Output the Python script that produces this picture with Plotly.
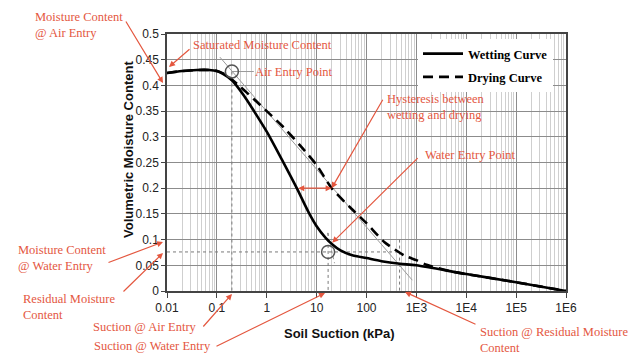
import numpy as np
import plotly.graph_objects as go

# Soil-water characteristic curves: suction (kPa) vs volumetric moisture content
wet_suction = [0.01, 0.02, 0.04, 0.07, 0.1, 0.13, 0.2, 0.35, 0.5, 1.0, 2.0, 4.0,
               7.0, 10, 15, 21, 30, 50, 100, 200, 470, 1000, 1e4, 1e5, 1e6]
wet_theta = [0.424, 0.428, 0.430, 0.430, 0.428, 0.423, 0.410, 0.380, 0.357, 0.310,
             0.256, 0.200, 0.152, 0.126, 0.104, 0.090, 0.079, 0.070, 0.064, 0.058,
             0.053, 0.050, 0.033, 0.017, 0.0]

dry_suction = [0.01, 0.02, 0.04, 0.07, 0.1, 0.15, 0.3, 0.57, 1.0, 2.0, 5.0, 10,
               20, 50, 100, 230, 575, 1000, 1600, 4600, 1e4, 1e5, 1e6]
dry_theta = [0.424, 0.428, 0.430, 0.430, 0.428, 0.421, 0.397, 0.372, 0.350, 0.322,
             0.280, 0.245, 0.200, 0.160, 0.132, 0.095, 0.069, 0.060, 0.051, 0.039,
             0.033, 0.017, 0.0]

# Characteristic points of the curve
air_entry_suction = 0.2
saturated_theta = 0.427
water_entry_suction = 17.0
residual_theta = 0.076
residual_suction = 460.0

# Tangent through the air-entry point and the steep-section tangent at water entry
tangent_suction = [0.115, 830]
tangent_theta = [0.455, 0.021]
we_tangent_suction = [16.6, 22.9]
we_tangent_theta = [0.113, 0.054]

# Hysteresis span at a common moisture content
hyst_theta = 0.2
hyst_wet_suction = 4.0
hyst_dry_suction = 20.0

x_tick_vals = [0.01, 0.1, 1, 10, 100, 1e3, 1e4, 1e5, 1e6]
x_tick_text = ["0.01", "0.1", "1", "10", "100", "1E3", "1E4", "1E5", "1E6"]
x_minor_vals = [k * 10.0 ** d for d in range(-2, 6) for k in range(2, 10)]

W, H = 633, 356
L, R, T, B = 167, 67, 34, 65
PW, PH = W - L - R, H - T - B

RED = "#e4573f"
GUIDE = "#7a7a7a"
SERIF = "Liberation Serif"
SANS = "Liberation Sans"


def pxx(x):
    return (x - L) / PW


def pxy(y):
    return (H - B - y) / PH


fig = go.Figure()

# Guide lines
guide = dict(color=GUIDE, width=1, dash="dot")
fig.add_trace(go.Scatter(x=tangent_suction, y=tangent_theta, mode="lines",
                         line=dict(color="#9a9a9a", width=1), showlegend=False, hoverinfo="skip"))
fig.add_trace(go.Scatter(x=we_tangent_suction, y=we_tangent_theta, mode="lines",
                         line=dict(color="#9a9a9a", width=1, dash="dot"), showlegend=False, hoverinfo="skip"))
fig.add_trace(go.Scatter(x=[air_entry_suction, air_entry_suction], y=[saturated_theta, 0], mode="lines",
                         line=guide, showlegend=False, hoverinfo="skip"))
fig.add_trace(go.Scatter(x=[air_entry_suction, 0.55], y=[saturated_theta, saturated_theta], mode="lines",
                         line=dict(color="#9a9a9a", width=1), showlegend=False, hoverinfo="skip"))
fig.add_trace(go.Scatter(x=[water_entry_suction, water_entry_suction], y=[0.113, 0], mode="lines",
                         line=guide, showlegend=False, hoverinfo="skip"))
fig.add_trace(go.Scatter(x=[0.01, residual_suction], y=[residual_theta, residual_theta], mode="lines",
                         line=guide, showlegend=False, hoverinfo="skip"))
fig.add_trace(go.Scatter(x=[residual_suction, residual_suction], y=[0.1, 0], mode="lines",
                         line=guide, showlegend=False, hoverinfo="skip"))

# Curves
fig.add_trace(go.Scatter(x=wet_suction, y=wet_theta, mode="lines", name="Wetting Curve",
                         legendgroup="w", line=dict(color="black", width=2.6, shape="spline",
                                                    smoothing=0.8)))
fig.add_trace(go.Scatter(x=dry_suction, y=dry_theta, mode="lines", name="Drying Curve",
                         legendgroup="d", line=dict(color="black", width=2.6, dash="10px,6px",
                                                    shape="spline", smoothing=0.6)))

# Air-entry and water-entry points
fig.add_trace(go.Scatter(x=[air_entry_suction, water_entry_suction], y=[saturated_theta, residual_theta],
                         mode="markers", showlegend=False, hoverinfo="skip",
                         marker=dict(symbol="circle-open", size=13, color="#555",
                                     line=dict(width=1.5, color="#555"))))

annotations = []


def label(text, left, cy):
    annotations.append(dict(text=text, xref="paper", yref="paper", x=pxx(left), y=pxy(cy),
                            xanchor="left", yanchor="middle", align="left", showarrow=False,
                            font=dict(family=SERIF, size=12.5, color=RED)))


def arrow_px(head, tail):
    annotations.append(dict(text="", xref="paper", yref="paper", x=pxx(head[0]), y=pxy(head[1]),
                            ax=tail[0] - head[0], ay=tail[1] - head[1], showarrow=True,
                            arrowhead=2, arrowsize=1, arrowwidth=1.2, arrowcolor=RED, standoff=0))


def arrow_data(sx, th, tail_dx, tail_dy):
    annotations.append(dict(text="", xref="x", yref="y", x=np.log10(sx), y=th,
                            ax=tail_dx, ay=tail_dy, showarrow=True,
                            arrowhead=2, arrowsize=1, arrowwidth=1.2, arrowcolor=RED, standoff=0))


label("Moisture Content<br>@ Air Entry", 33, 25)
arrow_px((163, 83), (125, 20))
label("Saturated Moisture Content", 191, 45)
arrow_px((169, 67), (191, 48))
label("Air Entry Point", 253, 72)
label("Hysteresis between<br>wetting and drying", 385, 107)
arrow_data(hyst_dry_suction, hyst_theta, 52, -90)
label("Water Entry Point", 423, 155)
arrow_data(20.5, 0.094, 87, -86)
label("Moisture Content<br>@ Water Entry", 16, 258)
arrow_px((163, 242), (107, 263))
label("Residual Moisture<br>Content", 21, 307)
arrow_px((163, 253), (122, 293))
label("Suction @ Air Entry", 91, 327)
arrow_px((232, 294), (202, 328))
label("Suction @ Water Entry", 92, 346)
arrow_px((325, 293), (215, 347))
label("Suction @ Residual Moisture<br>Content", 478, 340)
arrow_px((405, 292), (477, 325))

# Double-headed hysteresis arrow
annotations.append(dict(text="", xref="x", yref="y", axref="x", ayref="y",
                        x=np.log10(hyst_dry_suction), y=hyst_theta,
                        ax=np.log10(hyst_wet_suction), ay=hyst_theta,
                        showarrow=True, arrowhead=2, arrowside="end+start", arrowsize=1,
                        arrowwidth=1.2, arrowcolor=RED, standoff=0, startstandoff=0))

# Axis titles
annotations.append(dict(text="<b>Volumetric Moisture Content</b>", xref="paper", yref="paper",
                        x=pxx(128), y=pxy(150), xanchor="center", yanchor="middle",
                        textangle=-90, showarrow=False,
                        font=dict(family=SANS, size=13, color="#111")))
annotations.append(dict(text="<b>Soil Suction (kPa)</b>", xref="paper", yref="paper",
                        x=pxx(339), y=pxy(333), xanchor="center", yanchor="middle",
                        showarrow=False, font=dict(family=SANS, size=13, color="#111")))

# White panel behind the legend
shapes = [dict(type="rect", xref="paper", yref="paper", x0=pxx(418), x1=1, y0=pxy(86), y1=1,
               fillcolor="white", line=dict(width=0), layer="between")]

fig.update_layout(
    width=W, height=H,
    margin=dict(l=L, r=R, t=T, b=B),
    paper_bgcolor="white", plot_bgcolor="white",
    annotations=annotations,
    shapes=shapes,
    legend=dict(x=pxx(553), xanchor="right", y=pxy(39), yanchor="top", bgcolor="white",
                font=dict(family=SERIF, size=12.5, color="black", weight="bold"),
                tracegroupgap=4, itemwidth=40),
    xaxis=dict(type="log", range=[-2, 6], tickmode="array", tickvals=x_tick_vals, ticktext=x_tick_text,
               ticks="outside", ticklen=5, tickcolor="#444", showline=True, linecolor="#444",
               linewidth=1.5, mirror=True, showgrid=True, gridcolor="#8c8c8c", gridwidth=1,
               zeroline=False,
               minor=dict(tickmode="array", tickvals=x_minor_vals, showgrid=True,
                          gridcolor="#cfcfcf", gridwidth=1, ticks=""),
               tickfont=dict(family=SANS, size=12, color="#222")),
    yaxis=dict(range=[0, 0.5], tick0=0, dtick=0.05, ticks="outside", ticklen=4, tickcolor="#444",
               showline=True, linecolor="#444", linewidth=1.5, mirror=True, showgrid=True,
               gridcolor="#8c8c8c", gridwidth=1, zeroline=False,
               tickfont=dict(family=SANS, size=12, color="#222")),
)

fig.write_html("out.html")
